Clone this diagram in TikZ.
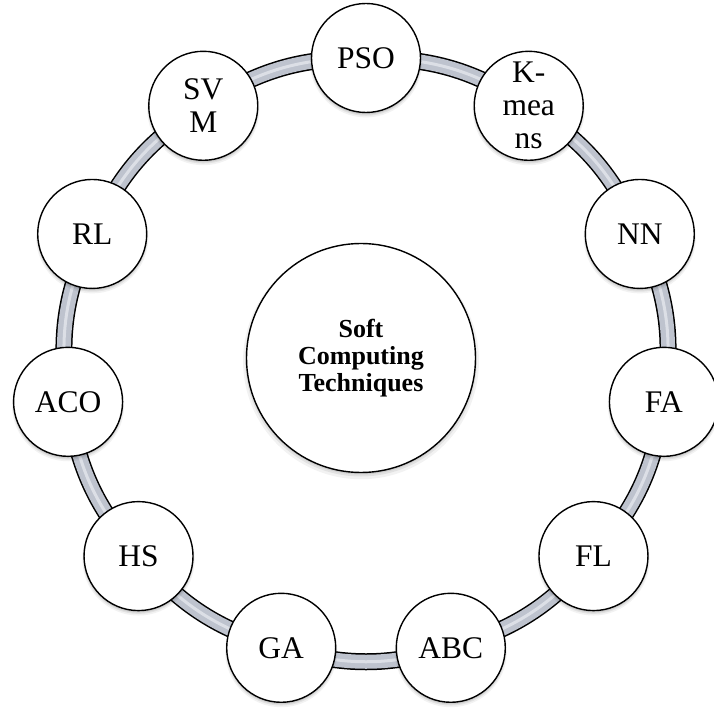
\documentclass[tikz,border=0pt]{standalone}
\usepackage{fontspec}
\setmainfont{Liberation Serif}
\usetikzlibrary{shadows}
\pgfdeclarelayer{background}
\pgfsetlayers{background,main}
\definecolor{bandfill}{RGB}{190,195,206}
\definecolor{bandshine}{RGB}{228,231,237}
\begin{document}
\begin{tikzpicture}[x=1pt,y=1pt,
  softshadow/.style={
    general shadow={shadow yshift=-3.2pt, shadow scale=1.03, fill=black, opacity=0.05},
    general shadow={shadow yshift=-2.6pt, shadow scale=1.012, fill=black, opacity=0.07},
    general shadow={shadow yshift=-2pt, shadow scale=1.0, fill=black, opacity=0.08}},
  technique/.style={circle, draw=black, line width=1.4pt, fill=white,
    minimum size=109pt, inner sep=0pt, align=center,
    font=\fontsize{31.5}{33}\selectfont, softshadow},
  hub/.style={circle, draw=black, line width=1.4pt, fill=white,
    minimum size=229pt, inner sep=0pt, align=center,
    font=\fontsize{26}{27}\selectfont\bfseries, softshadow},
  link/.style={draw=bandfill, line width=14pt,
    preaction={draw=black, line width=17pt},
    postaction={draw=bandshine, line width=3pt, opacity=0.8}}
]
\useasboundingbox (0,0) rectangle (714,709);

% central hub
\node[hub] (core) at (361,351) {Soft\\Computing\\Techniques};

% ring of techniques, clockwise from the top
\coordinate (ring) at (366,350);
\foreach \name/\txt [count=\i from 0] in
  {pso/PSO, km/{K-\\mea\\ns}, nn/NN, fa/FA, fl/FL, abc/ABC,
   ga/GA, hs/HS, aco/ACO, rl/RL, svm/{SV\\M}}
  \node[technique] (\name) at ([shift={(90-\i*32.7273:301pt)}]ring) {\txt};

% grey band joining neighbouring techniques
\begin{pgfonlayer}{background}
\foreach \a/\b in {pso/km, km/nn, nn/fa, fa/fl, fl/abc, abc/ga,
                   ga/hs, hs/aco, aco/rl, rl/svm, svm/pso}
  \path[link] (\a.center) to[bend left=16.36] (\b.center);
\end{pgfonlayer}
\end{tikzpicture}
\end{document}
